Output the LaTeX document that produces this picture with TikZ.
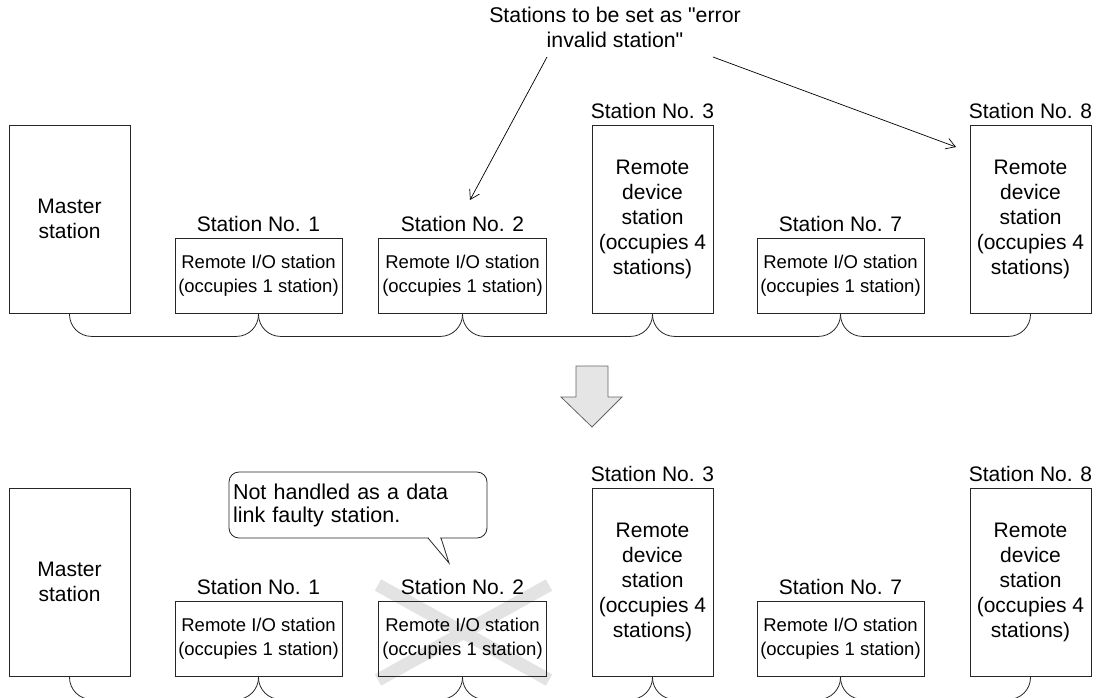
\documentclass[tikz,border=0pt]{standalone}
\usepackage{fontspec}
\setmainfont{Liberation Sans}[Ligatures=TeXOff]
\usetikzlibrary{arrows.meta}
\tikzset{
  box/.style={draw=black!85, line width=0.8pt, inner sep=0pt, align=center},
  tallbox/.style={box, minimum width=121pt, minimum height=188pt, font=\fontsize{21}{25}\selectfont},
  smallbox/.style={box, minimum width=167pt, minimum height=75pt, font=\fontsize{18.5}{24}\selectfont},
  lbl/.style={anchor=base, inner sep=0pt, font=\fontsize{21}{25}\selectfont},
  bus/.style={draw=black!85, line width=0.8pt, rounded corners=22pt},
  callout/.style={-{Straight Barb[length=9pt,width=11pt]}, line width=0.7pt},
  cross/.style={line width=13pt, draw=black!11},
  bubble/.style={draw=black!85, line width=0.8pt, rounded corners=10pt, fill=white,
     minimum width=258pt, minimum height=66pt, text width=250pt, inner xsep=4pt,
     align=left, font=\fontsize{21.5}{23}\selectfont},
  blockarrow/.style={draw=black!60, line width=0.8pt, fill=black!10}
}
\begin{document}
\begin{tikzpicture}[x=1pt, y=-1pt]
\useasboundingbox (0,0) rectangle (1098,697);

% ---------------- title ----------------
\node[align=center, font=\fontsize{21.3}{25}\selectfont, inner sep=0pt] (title) at (615,27)
  {Stations to be set as "error\\invalid station"};
\coordinate (a1s) at (547,57);
\coordinate (a2s) at (713,57);

% ---------------- top row ----------------
\node[tallbox] (m) at (69.5,219) {Master\\station};
\node[smallbox] (s1) at (258.5,275.5) {Remote I/O station\\(occupies 1 station)};
\node[smallbox, minimum width=168pt] (s2) at (462.5,275.5) {Remote I/O station\\(occupies 1 station)};
\node[tallbox] (s3) at (652.5,219) {Remote\\device\\station\\(occupies 4\\stations)};
\node[smallbox] (s7) at (840.5,275.5) {Remote I/O station\\(occupies 1 station)};
\node[tallbox] (s8) at (1030.5,219) {Remote\\device\\station\\(occupies 4\\stations)};

\node[lbl] (l1) at (258.5,231) {Station No. 1};
\node[lbl] (l2) at (462.5,231) {Station No. 2};
\node[lbl] (l3) at (652.5,118) {Station No. 3};
\node[lbl] (l7) at (840.5,231) {Station No. 7};
\node[lbl] (l8) at (1030.5,118) {Station No. 8};

\path[bus] (m.south) -- ++(0,23) -| (s1.south);
\path[bus] (s1.south) -- ++(0,23) -| (s2.south);
\path[bus] (s2.south) -- ++(0,23) -| (s3.south);
\path[bus] (s3.south) -- ++(0,23) -| (s7.south);
\path[bus] (s7.south) -- ++(0,23) -| (s8.south);

\coordinate (a1e) at (470,200);
\coordinate (a2e) at (956,147);
\draw[callout] (a1s) -- (a1e);
\draw[callout] (a2s) -- (a2e);

% ---------------- block arrow ----------------
\draw[blockarrow] (576,366) -- (608,366) -- (608,397) -- (622,397) -- (592,427)
   -- (561,397) -- (576,397) -- cycle;

% ---------------- bottom row ----------------
\draw[cross] (378,585) -- (549,680);
\draw[cross] (378,680) -- (549,585);

\node[tallbox] (bm) at (69.5,582) {Master\\station};
\node[smallbox] (bs1) at (258.5,638.5) {Remote I/O station\\(occupies 1 station)};
\node[smallbox, minimum width=168pt] (bs2) at (462.5,638.5) {Remote I/O station\\(occupies 1 station)};
\node[tallbox] (bs3) at (652.5,582) {Remote\\device\\station\\(occupies 4\\stations)};
\node[smallbox] (bs7) at (840.5,638.5) {Remote I/O station\\(occupies 1 station)};
\node[tallbox] (bs8) at (1030.5,582) {Remote\\device\\station\\(occupies 4\\stations)};

\node[lbl] (bl1) at (258.5,594) {Station No. 1};
\node[lbl] (bl2) at (462.5,594) {Station No. 2};
\node[lbl] (bl3) at (652.5,481) {Station No. 3};
\node[lbl] (bl7) at (840.5,594) {Station No. 7};
\node[lbl] (bl8) at (1030.5,481) {Station No. 8};

\path[bus] (bm.south) -- ++(0,23) -| (bs1.south);
\path[bus] (bs1.south) -- ++(0,23) -| (bs2.south);
\path[bus] (bs2.south) -- ++(0,23) -| (bs3.south);
\path[bus] (bs3.south) -- ++(0,23) -| (bs7.south);
\path[bus] (bs7.south) -- ++(0,23) -| (bs8.south);

% ---------------- speech bubble ----------------
\node[bubble] (bub) at (358,505) {Not handled as a data\\link faulty station.};
\coordinate (tip) at (449,563);
\fill[white] (428.6,535) rectangle (440.4,540);
\draw[draw=black!85, line width=0.8pt] (428,538) -- (tip) -- (441,538);
\end{tikzpicture}
\end{document}
